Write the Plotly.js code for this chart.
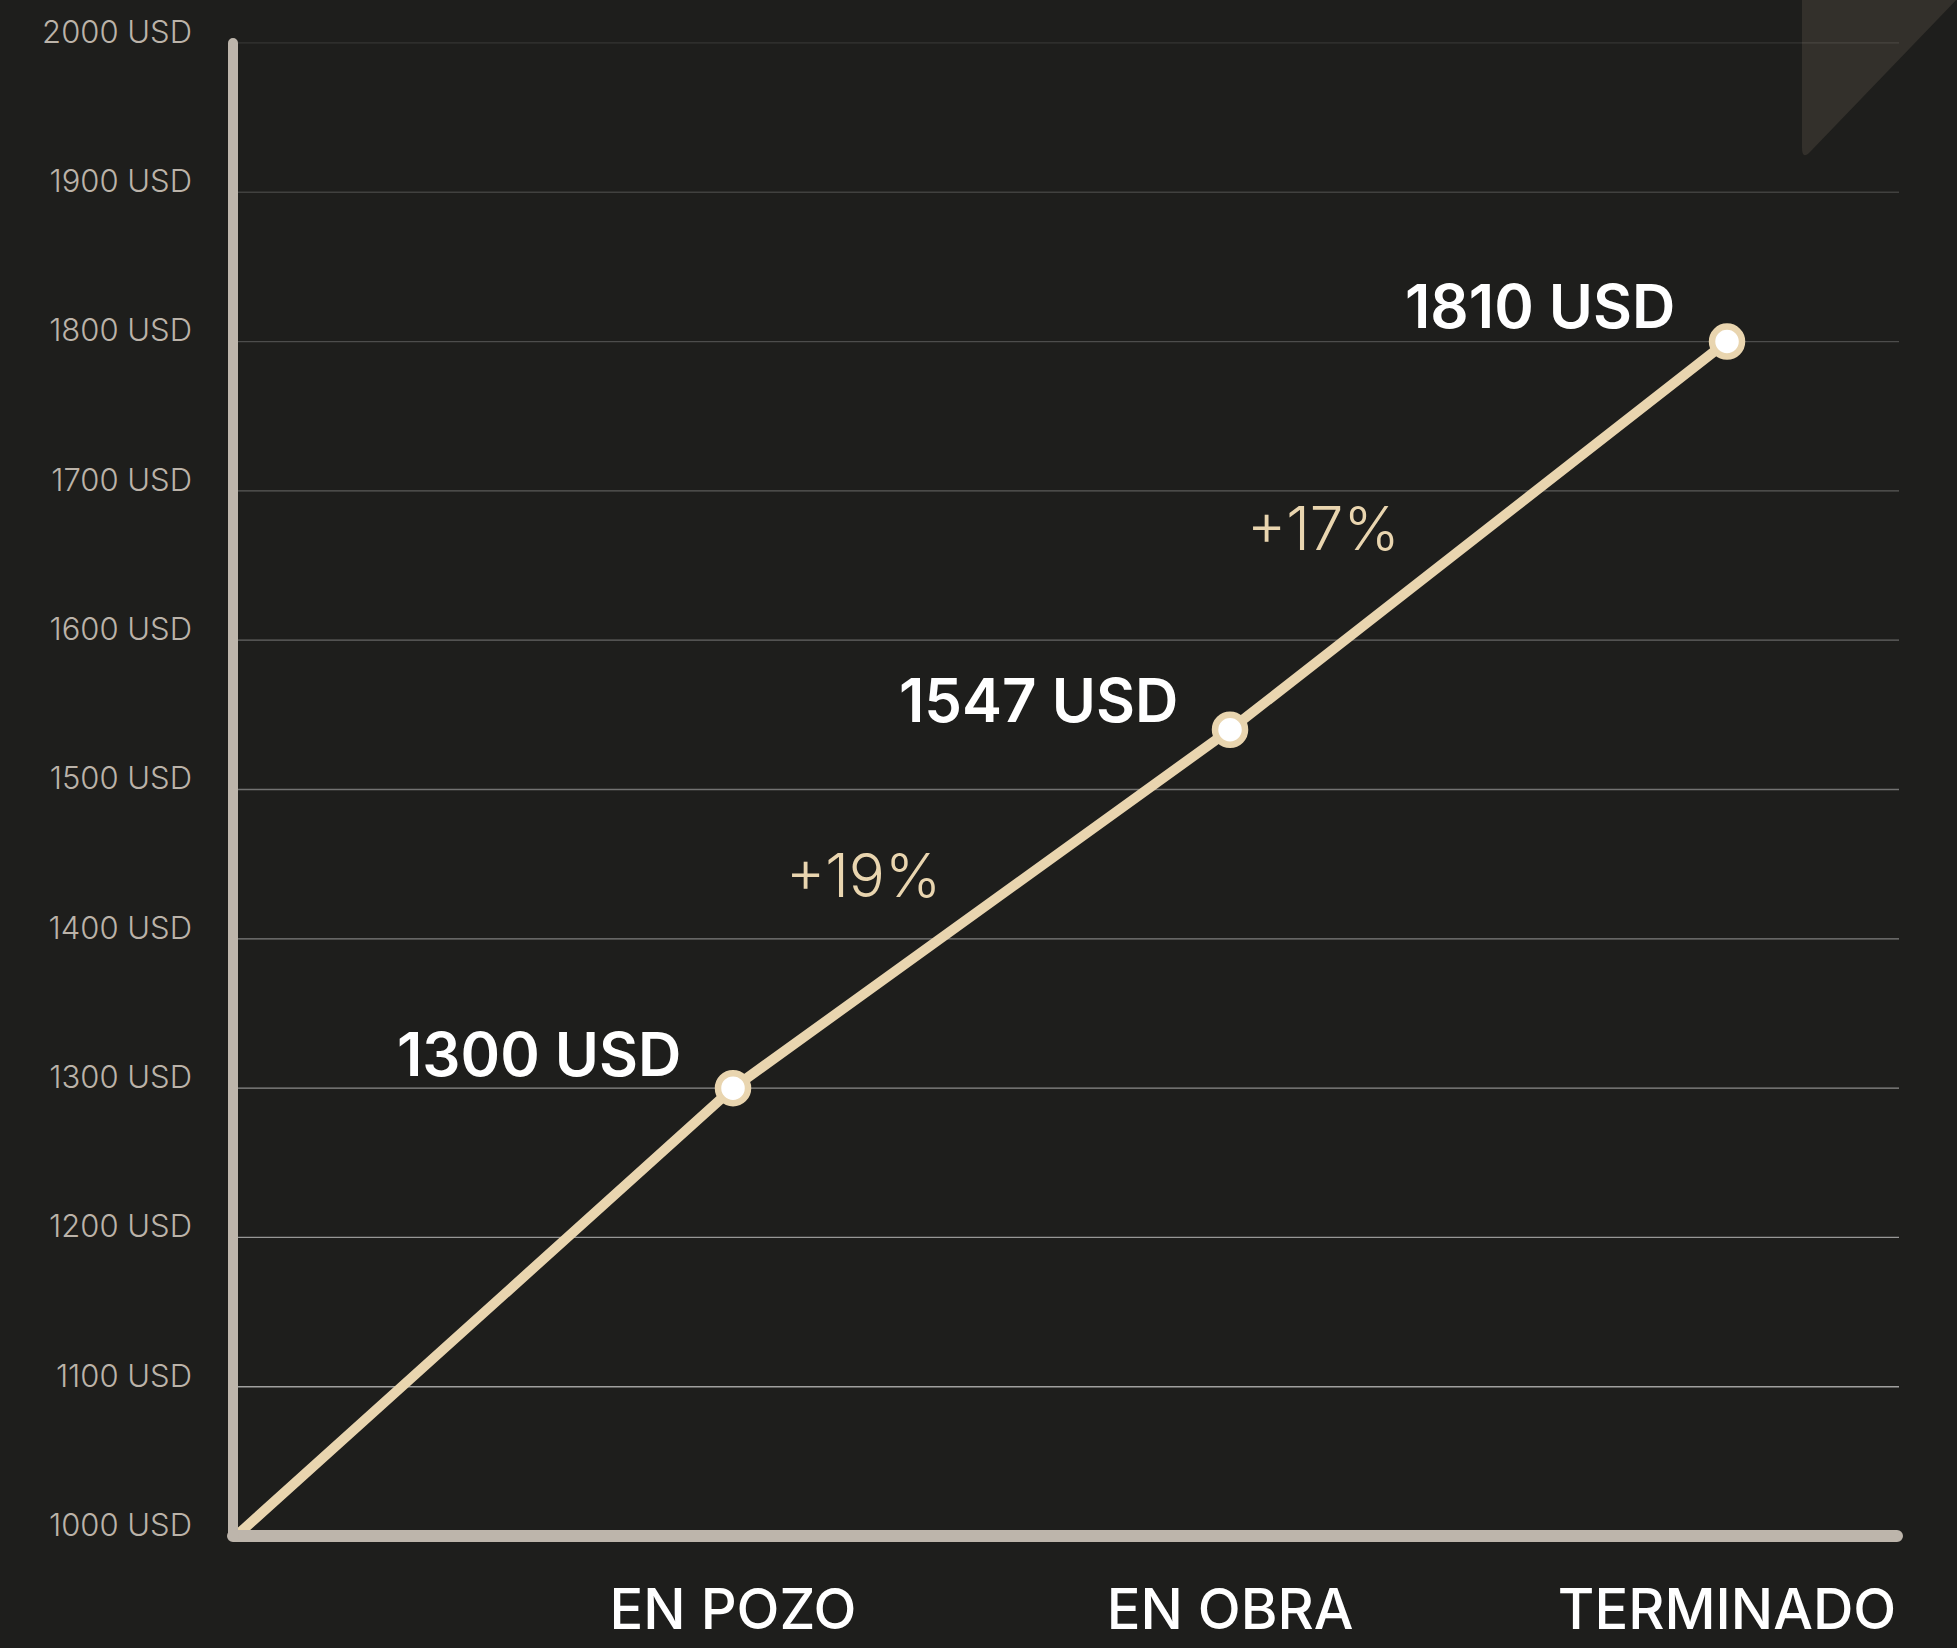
<!DOCTYPE html>
<html>
<head>
<meta charset="utf-8">
<script src="https://cdn.plot.ly/plotly-3.0.1.min.js"></script>
<style>
  html, body { margin: 0; padding: 0; background: #1e1e1c; }
  #chart { width: 1957px; height: 1648px; }
</style>
</head>
<body>
<div id="chart"></div>
<script>
// ---- data ----
const stageIndex   = [0, 1, 2, 3];
const stageNames   = ['', 'EN POZO', 'EN OBRA', 'TERMINADO'];
const stagePrice   = [1000, 1300, 1540, 1800];
const priceLabels  = ['', '1300 USD', '1547 USD', '1810 USD'];
const growthLabels = ['+19%', '+17%'];
const yTickValues  = [1000, 1100, 1200, 1300, 1400, 1500, 1600, 1700, 1800, 1900, 2000];
const yTickLabels  = ['1000 USD', '1100 USD', '1200 USD', '1300 USD', '1400 USD', '1500 USD',
                      '1600 USD', '1700 USD', '1800 USD', '1900 USD', '2000 USD'];

// ---- style ----
const W = 1957, H = 1648;
const L = 236, R = 1899, T = 28, B = 1551;
const BG = '#1e1e1c';
const GOLD = '#e9d5af';
const AXIS = '#bdb5ab';
const FONT = 'Inter, "Noto Sans", sans-serif';

const xp = px => (px - L) / (R - L);
const yp = py => (B - py) / (B - T);

const shapes = [];

// decorative corner triangle
shapes.push({
  type: 'path', xref: 'paper', yref: 'paper', layer: 'below',
  path: `M ${xp(1802)},${yp(0)} L ${xp(1962)},${yp(0)} L ${xp(1962)},${yp(-6)} L ${xp(1810)},${yp(152)} Q ${xp(1802)},${yp(160)} ${xp(1802)},${yp(148)} Z`,
  fillcolor: '#33302b', line: { width: 0 }
});

// gridlines with brightness growing downward
yTickValues.forEach((v) => {
  if (v === yTickValues[0]) return;
  const steps = (yTickValues[yTickValues.length - 1] - v) / 100;
  const a = Math.min(0.1 + steps * 0.055, 0.58);
  shapes.push({
    type: 'line', xref: 'paper', yref: 'y', layer: 'below',
    x0: 0, x1: 1, y0: v, y1: v,
    line: { color: `rgba(255,255,255,${a.toFixed(3)})`, width: 1.3 }
  });
});

// axis lines
const y0v = yTickValues[0], y1v = yTickValues[yTickValues.length - 1];
shapes.push({
  type: 'line', xref: 'paper', yref: 'y', layer: 'above',
  x0: xp(233), x1: xp(233), y0: y0v, y1: y1v,
  line: { color: AXIS, width: 10 }
});
shapes.push({
  type: 'circle', xref: 'paper', yref: 'y', layer: 'above',
  xsizemode: 'pixel', ysizemode: 'pixel', xanchor: xp(233), yanchor: y1v,
  x0: -5, x1: 5, y0: -5, y1: 5, fillcolor: AXIS, line: { width: 0 }
});
shapes.push({
  type: 'line', xref: 'paper', yref: 'y', layer: 'above',
  x0: xp(233), x1: xp(1897), y0: y0v, y1: y0v,
  line: { color: AXIS, width: 12 }
});
[233, 1897].forEach(px => shapes.push({
  type: 'circle', xref: 'paper', yref: 'y', layer: 'above',
  xsizemode: 'pixel', ysizemode: 'pixel', xanchor: xp(px), yanchor: y0v,
  x0: -6, x1: 6, y0: -6, y1: 6, fillcolor: AXIS, line: { width: 0 }
}));

// annotations
const annotations = [];
const labelShift = [[0, 0], [-50, -4], [-50, -8], [-50, -2]];
for (let i = 1; i < stageIndex.length; i++) {
  annotations.push({
    x: stageIndex[i], y: stagePrice[i], xref: 'x', yref: 'y',
    text: priceLabels[i], showarrow: false,
    xanchor: 'right', yanchor: 'bottom',
    xshift: labelShift[i][0], yshift: labelShift[i][1],
    font: { family: FONT, size: 60, weight: 600, color: '#ffffff' }
  });
}
const growthShift = [[-118, 34], [-155, 8]];
growthLabels.forEach((t, i) => {
  annotations.push({
    x: (stageIndex[i + 1] + stageIndex[i + 2]) / 2,
    y: (stagePrice[i + 1] + stagePrice[i + 2]) / 2,
    xref: 'x', yref: 'y', text: t, showarrow: false,
    xanchor: 'center', yanchor: 'middle',
    xshift: growthShift[i][0], yshift: growthShift[i][1],
    font: { family: FONT, size: 60, weight: 300, color: GOLD }
  });
});

const traces = [
  {
    type: 'scatter', mode: 'lines',
    x: stageIndex, y: stagePrice,
    line: { color: GOLD, width: 10 },
    cliponaxis: false, hoverinfo: 'skip', showlegend: false
  },
  {
    type: 'scatter', mode: 'markers',
    x: stageIndex.slice(1), y: stagePrice.slice(1),
    marker: { size: 30, color: '#ffffff', line: { color: GOLD, width: 6.5 } },
    cliponaxis: false, hoverinfo: 'skip', showlegend: false
  }
];

const layout = {
  width: W, height: H,
  paper_bgcolor: BG, plot_bgcolor: 'rgba(0,0,0,0)',
  margin: { l: L, r: W - R, t: T, b: H - B, pad: 0 },
  showlegend: false,
  xaxis: {
    range: [0, 3.346], showgrid: false, zeroline: false, showline: false,
    tickvals: stageIndex.slice(1), ticktext: stageNames.slice(1), ticks: '',
    ticklabelstandoff: 21,
    tickfont: { family: FONT, size: 56, weight: 500, color: '#ffffff' },
    fixedrange: true
  },
  yaxis: {
    range: [990, 2010], showgrid: false, zeroline: false, showline: false,
    tickvals: yTickValues, ticktext: yTickLabels, ticks: '',
    ticklabelstandoff: 43, ticklabelshift: -11,
    tickfont: { family: FONT, size: 31, weight: 300, color: '#bbb3a9' },
    fixedrange: true
  },
  shapes: shapes,
  annotations: annotations
};

Plotly.newPlot('chart', traces, layout, { displayModeBar: false, staticPlot: true });
</script>
</body>
</html>
